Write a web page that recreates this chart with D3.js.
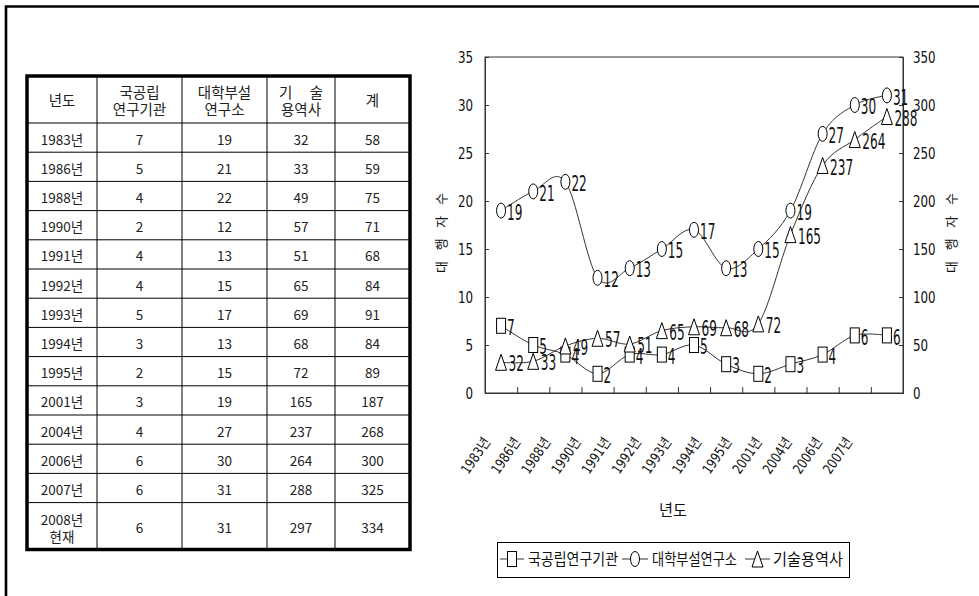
<!DOCTYPE html>
<html>
<head>
<meta charset="utf-8">
<script src="https://cdn.jsdelivr.net/npm/d3@7"></script>
<style>
  html, body { margin: 0; padding: 0; background: #fff; }
  svg { display: block; }
  .kr { font-family: "Noto Sans CJK KR", "Noto Sans", sans-serif; }
  .num { font-family: "DejaVu Sans Condensed", "DejaVu Sans", "Noto Sans CJK KR", sans-serif; }
</style>
</head>
<body>
<script>
// ---- data ----
const tableYears = ["1983년","1986년","1988년","1990년","1991년","1992년","1993년","1994년","1995년","2001년","2004년","2006년","2007년","2008년\n현재"];
const national    = [7, 5, 4, 2, 4, 4, 5, 3, 2, 3, 4, 6, 6, 6];
const university  = [19, 21, 22, 12, 13, 15, 17, 13, 15, 19, 27, 30, 31, 31];
const engineering = [32, 33, 49, 57, 51, 65, 69, 68, 72, 165, 237, 264, 288, 297];
const totals      = [58, 59, 75, 71, 68, 84, 91, 84, 89, 187, 268, 300, 325, 334];

const chartYears = tableYears.slice(0, 13);
const leftTicks  = [0, 5, 10, 15, 20, 25, 30, 35];
const rightTicks = [0, 50, 100, 150, 200, 250, 300, 350];

const headers = [["년도"], ["국공립", "연구기관"], ["대학부설", "연구소"], ["기 술", "용역사"], ["계"]];
const seriesNames = ["국공립연구기관", "대학부설연구소", "기술용역사"];

const W = 979, H = 596;
const svg = d3.select("body").append("svg").attr("width", W).attr("height", H);

// page frame (top and left edges)
svg.append("path").attr("d", `M6,${H} V6.5 H${W}`).attr("fill", "none")
  .attr("stroke", "#000").attr("stroke-width", 2.6);

// ---- table ----
const colX = [27, 97, 182, 267, 335, 410];
const tTop = 76, hBottom = 123, rowH = 29.2, tBottom = 549.5;
const rowY = d3.range(14).map(i => hBottom + i * rowH);
const tbl = svg.append("g");

colX.slice(1, -1).forEach(x => tbl.append("line").attr("x1", x).attr("x2", x)
  .attr("y1", tTop).attr("y2", tBottom).attr("stroke", "#000").attr("stroke-width", 1));
rowY.forEach(y => tbl.append("line").attr("x1", colX[0]).attr("x2", colX[5])
  .attr("y1", y).attr("y2", y).attr("stroke", "#000").attr("stroke-width", 1));
tbl.append("rect").attr("x", colX[0]).attr("y", tTop).attr("width", colX[5] - colX[0])
  .attr("height", tBottom - tTop).attr("fill", "none").attr("stroke", "#000").attr("stroke-width", 3.5);

const colC = d3.range(5).map(i => (colX[i] + colX[i + 1]) / 2);
headers.forEach((lines, i) => {
  const yc = (tTop + hBottom) / 2;
  lines.forEach((s, j) => {
    const y = lines.length === 1 ? yc : yc + (j === 0 ? -8.5 : 8.5);
    const t = tbl.append("text").attr("class", "kr").attr("x", colC[i]).attr("y", y)
      .attr("text-anchor", "middle").attr("dominant-baseline", "central")
      .attr("font-size", 14.5).attr("fill", "#222").text(s);
    if (s === "기 술") t.attr("textLength", 44).attr("lengthAdjust", "spacing");
  });
});
tableYears.forEach((yr, r) => {
  const y0 = rowY[r], y1 = r < 13 ? rowY[r + 1] : tBottom;
  const yc = (y0 + y1) / 2 + 1;
  const vals = [yr, national[r], university[r], engineering[r], totals[r]];
  vals.forEach((v, c) => {
    const parts = String(v).split("\n");
    parts.forEach((p, k) => {
      const y = parts.length === 1 ? yc : yc + (k === 0 ? -8 : 8.5);
      tbl.append("text").attr("class", "kr").attr("x", colC[c]).attr("y", y)
        .attr("text-anchor", "middle").attr("dominant-baseline", "central")
        .attr("font-size", 13.5).attr("fill", "#222").text(p);
    });
  });
});

// ---- chart ----
const pl = 485, pr = 903, pt = 57, pb = 393;
const x = d3.scaleBand().domain(chartYears).range([pl, pr]).paddingInner(0).paddingOuter(0);
const xc = d => x(d) + x.bandwidth() / 2;
const xi = d3.scaleLinear().domain([0, chartYears.length]).range([pl, pr]);
const yL = d3.scaleLinear().domain([0, 35]).range([pb, pt]);
const yR = d3.scaleLinear().domain([0, 350]).range([pb, pt]);

const chart = svg.append("g");
chart.append("rect").attr("x", pl).attr("y", pt).attr("width", pr - pl).attr("height", pb - pt)
  .attr("fill", "none").attr("stroke", "#333").attr("stroke-width", 1);

// narrow tall tick numbers: move the axis offset into a transform and squeeze horizontally
const narrowTicks = (dx) => g => g.selectAll(".tick text")
  .attr("class", "num").attr("font-size", 16.5).attr("fill", "#111")
  .attr("x", null).attr("dy", "0.36em")
  .attr("transform", `translate(${dx},0) scale(0.8,1)`);

chart.append("g").attr("transform", `translate(${pl},0)`)
  .call(d3.axisLeft(yL).tickValues(leftTicks).tickSize(-4))
  .call(g => g.select(".domain").attr("stroke", "#333"))
  .call(g => g.selectAll(".tick line").attr("stroke", "#333"))
  .call(narrowTicks(-12));
chart.append("g").attr("transform", `translate(${pr},0)`)
  .call(d3.axisRight(yR).tickValues(rightTicks).tickSize(-4))
  .call(g => g.select(".domain").attr("stroke", "#333"))
  .call(g => g.selectAll(".tick line").attr("stroke", "#333"))
  .call(narrowTicks(10));
chart.append("g").attr("transform", `translate(0,${pb})`)
  .call(d3.axisBottom(xi).tickValues(d3.range(1, chartYears.length)).tickSize(-6).tickFormat(""))
  .call(g => g.select(".domain").attr("stroke", "#333"))
  .call(g => g.selectAll(".tick line").attr("stroke", "#333"));

// rotated category labels
const labelX = d3.scalePoint().domain(chartYears).range([487, 849]);
chart.selectAll(".xlab").data(chartYears).join("text")
  .attr("class", "num")
  .attr("transform", d => `translate(${labelX(d)},${439}) rotate(-56) scale(0.9,1)`)
  .attr("text-anchor", "end").attr("dominant-baseline", "central")
  .attr("font-size", 14).attr("fill", "#111").text(d => d);

// axis titles
chart.append("text").attr("class", "kr").attr("x", 673).attr("y", 509)
  .attr("text-anchor", "middle").attr("dominant-baseline", "central")
  .attr("font-size", 16).attr("fill", "#111").attr("textLength", 28).attr("lengthAdjust", "spacingAndGlyphs").text("년도");
[440, 950].forEach(tx => chart.append("text").attr("class", "kr")
  .attr("transform", `translate(${tx},233) rotate(-90)`)
  .attr("text-anchor", "middle").attr("dominant-baseline", "central")
  .attr("font-size", 13).attr("fill", "#111")
  .attr("textLength", 80).attr("lengthAdjust", "spacing").text("대행자수"));

// series
const series = [
  { name: seriesNames[0], vals: national.slice(0, 13),    y: yL, shape: "square" },
  { name: seriesNames[1], vals: university.slice(0, 13),  y: yL, shape: "circle" },
  { name: seriesNames[2], vals: engineering.slice(0, 13), y: yR, shape: "triangle" }
];

function marker(g, shape, cx, cy) {
  if (shape === "square") {
    g.append("rect").attr("x", cx - 4.5).attr("y", cy - 7.5).attr("width", 9).attr("height", 15)
      .attr("fill", "#fff").attr("stroke", "#000").attr("stroke-width", 1);
  } else if (shape === "circle") {
    g.append("ellipse").attr("cx", cx).attr("cy", cy).attr("rx", 4.5).attr("ry", 7.5)
      .attr("fill", "#fff").attr("stroke", "#000").attr("stroke-width", 1);
  } else {
    g.append("path").attr("d", `M${cx},${cy - 8} L${cx + 5.5},${cy + 8} L${cx - 5.5},${cy + 8} Z`)
      .attr("fill", "#fff").attr("stroke", "#000").attr("stroke-width", 1);
  }
}

const line = d3.line().curve(d3.curveCardinal.tension(0));
series.forEach(s => {
  chart.append("path")
    .attr("d", line(s.vals.map((v, i) => [xc(chartYears[i]), s.y(v)])))
    .attr("fill", "none").attr("stroke", "#333").attr("stroke-width", 1);
});
series.forEach(s => {
  const g = chart.append("g");
  s.vals.forEach((v, i) => {
    const cx = xc(chartYears[i]), cy = s.y(v);
    marker(g, s.shape, cx, cy);
    const dx = s.shape === "triangle" ? 7.5 : 6;
    g.append("text").attr("class", "num")
      .attr("transform", `translate(${cx + dx},${cy + 2}) scale(0.64,1)`)
      .attr("dominant-baseline", "central").attr("font-size", 21).attr("fill", "#111").text(v);
  });
});

// legend
const lg = svg.append("g");
lg.append("rect").attr("x", 497.5).attr("y", 542.5).attr("width", 352).attr("height", 35)
  .attr("fill", "#fff").attr("stroke", "#000").attr("stroke-width", 1);
const legItems = [
  { x1: 500, x2: 524, tx: 528, tw: 90 },
  { x1: 622, x2: 648, tx: 652, tw: 85 },
  { x1: 745, x2: 770, tx: 773, tw: 70 }
];
series.forEach((s, i) => {
  const it = legItems[i], ly = 559;
  lg.append("line").attr("x1", it.x1).attr("x2", it.x2).attr("y1", ly).attr("y2", ly)
    .attr("stroke", "#333").attr("stroke-width", 1);
  marker(lg, s.shape, (it.x1 + it.x2) / 2, ly);
  lg.append("text").attr("class", "kr").attr("x", it.tx).attr("y", ly - 1)
    .attr("dominant-baseline", "central").attr("font-size", 16).attr("fill", "#111")
    .attr("textLength", it.tw).attr("lengthAdjust", "spacingAndGlyphs").text(s.name);
});
</script>
</body>
</html>
